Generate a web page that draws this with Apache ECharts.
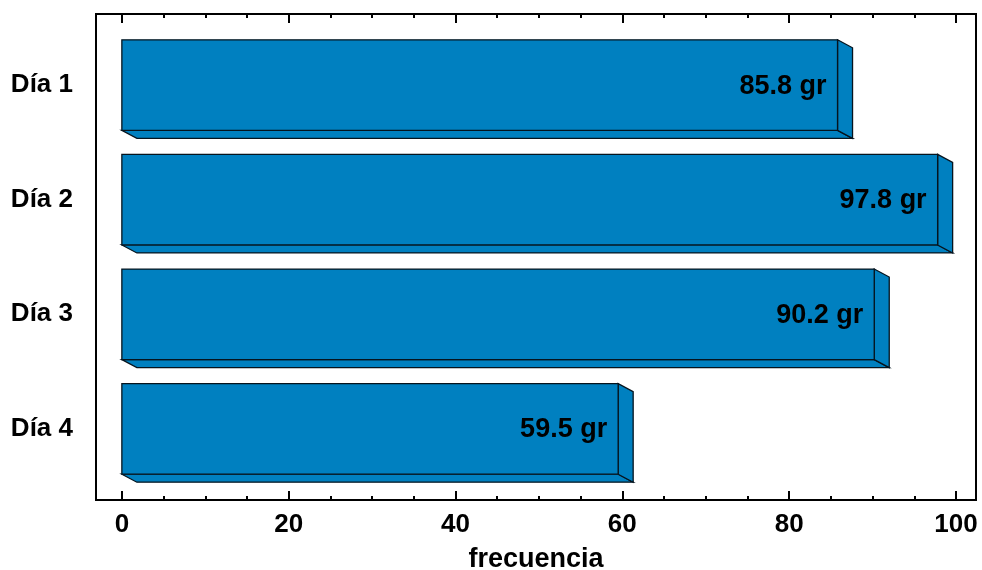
<!DOCTYPE html>
<html><head><meta charset="utf-8">
<script src="https://cdn.jsdelivr.net/npm/echarts@6/dist/echarts.min.js"></script>
<style>html,body{margin:0;padding:0;background:#fff}#c{width:982px;height:570px}</style>
</head><body><div id="c"></div>
<script>
var categories = ['Día 1', 'Día 2', 'Día 3', 'Día 4'];
var values = [85.8, 97.8, 90.2, 59.5];
var valueLabels = ['85.8 gr', '97.8 gr', '90.2 gr', '59.5 gr'];
var majorTicks = [0, 20, 40, 60, 80, 100];
var minorTicks = [5, 10, 15, 25, 30, 35, 45, 50, 55, 65, 70, 75, 85, 90, 95];
var xName = 'frecuencia';

var FONT = 'Liberation Sans, Arial, sans-serif';
var chart = echarts.init(document.getElementById('c'), null, {renderer: 'canvas'});
var XMIN = -3.1, XMAX = 102.4;
function xAxisDef(pos, ticks, len, showLabel) {
  return {
    type: 'value', position: pos, min: XMIN, max: XMAX,
    axisLine: {show: false, onZero: false}, splitLine: {show: false},
    axisTick: {show: true, inside: true, length: len, customValues: ticks, lineStyle: {color: '#000', width: 2}},
    axisLabel: {show: showLabel, customValues: ticks, margin: 12, color: '#000', fontFamily: FONT, fontWeight: 'bold', fontSize: 26},
    name: showLabel ? xName : '', nameLocation: 'middle', nameGap: 46,
    nameTextStyle: {color: '#000', fontFamily: FONT, fontWeight: 'bold', fontSize: 27}
  };
}
var data = values.map(function (v, i) { return [i, v]; });
chart.setOption({
  animation: false,
  backgroundColor: '#fff',
  grid: {left: 96, right: 6, top: 14, bottom: 70, outerBoundsMode: 'none', containLabel: false,
    show: true, borderColor: '#000', borderWidth: 2, backgroundColor: 'transparent'},
  xAxis: [
    xAxisDef('bottom', majorTicks, 9, true),
    xAxisDef('bottom', minorTicks, 4, false),
    xAxisDef('top', majorTicks, 9, false),
    xAxisDef('top', minorTicks, 4, false)
  ],
  yAxis: {
    type: 'value', inverse: true, min: -0.62, max: 3.62,
    axisLine: {show: false, onZero: false}, axisTick: {show: false}, splitLine: {show: false},
    axisLabel: {customValues: [0, 1, 2, 3], margin: 23, color: '#000', fontFamily: FONT, fontWeight: 'bold', fontSize: 26,
      formatter: function (v) { return categories[Math.round(v)]; }}
  },
  series: [{
    type: 'custom',
    xAxisIndex: 0,
    encode: {x: 1, y: 0},
    data: data,
    renderItem: function (params, api) {
      var i = api.value(0), v = api.value(1);
      var p0 = api.coord([0, i]);
      var p1 = api.coord([v, i]);
      var h = Math.abs(api.size([0, 0.79])[1]);
      var x0 = p0[0], x1 = p1[0];
      var yt = p0[1] - h / 2, yb = p0[1] + h / 2;
      var dx = 15, dy = 8;
      var st = {fill: '#0080C0', stroke: '#06141e', lineWidth: 1.3};
      return {
        type: 'group',
        children: [
          {type: 'polygon', shape: {points: [[x0, yb], [x1, yb], [x1 + dx, yb + dy], [x0 + dx, yb + dy]]}, style: st},
          {type: 'polygon', shape: {points: [[x1, yt], [x1 + dx, yt + dy], [x1 + dx, yb + dy], [x1, yb]]}, style: st},
          {type: 'rect', shape: {x: x0, y: yt, width: x1 - x0, height: yb - yt}, style: st},
          {type: 'text', style: {x: x1 - 11, y: p0[1] + 1, text: valueLabels[params.dataIndex], align: 'right', verticalAlign: 'middle',
            fill: '#000', font: 'bold 27px ' + FONT}}
        ]
      };
    }
  }]
});
</script></body></html>
